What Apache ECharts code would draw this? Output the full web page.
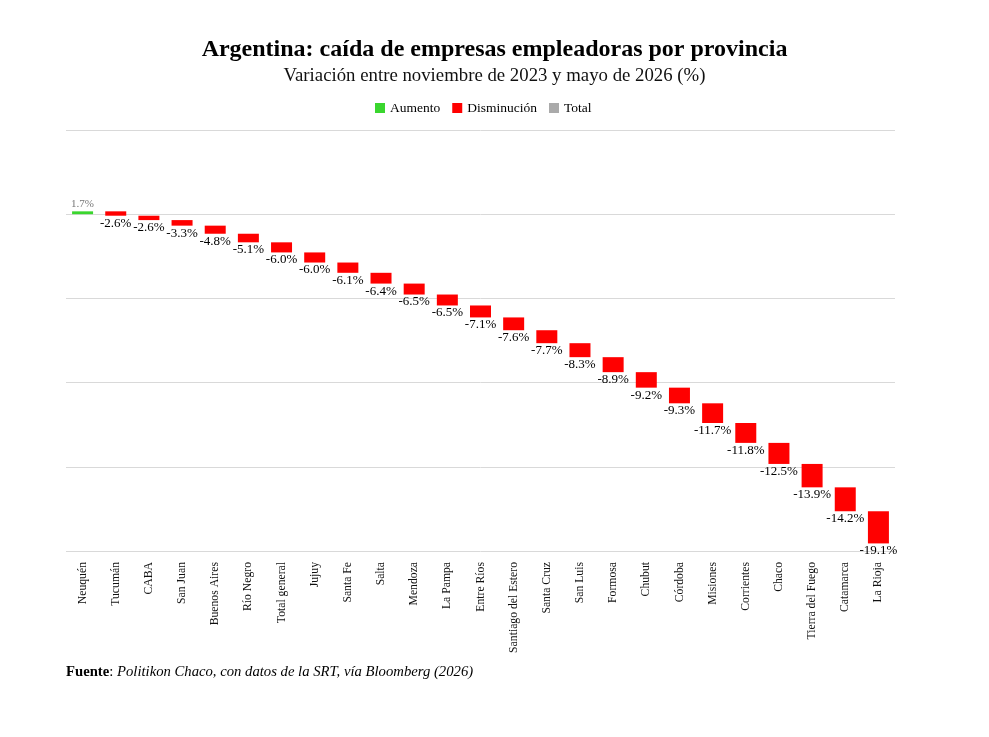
<!DOCTYPE html>
<html>
<head>
<meta charset="utf-8">
<title>Argentina: caída de empresas empleadoras por provincia</title>
<script src="https://cdn.jsdelivr.net/npm/echarts@6/dist/echarts.min.js"></script>
<style>
  html, body { margin: 0; padding: 0; background: #fff; }
  #chart { width: 989px; height: 737px; }
</style>
</head>
<body>
<div id="chart"></div>
<script>
var provincias = ['Neuquén', 'Tucumán', 'CABA', 'San Juan', 'Buenos Aires', 'Río Negro', 'Total general',
    'Jujuy', 'Santa Fe', 'Salta', 'Mendoza', 'La Pampa', 'Entre Ríos', 'Santiago del Estero', 'Santa Cruz',
    'San Luis', 'Formosa', 'Chubut', 'Córdoba', 'Misiones', 'Corrientes', 'Chaco', 'Tierra del Fuego',
    'Catamarca', 'La Rioja'];
var variacion = [1.7, -2.6, -2.6, -3.3, -4.8, -5.1, -6.0, -6.0, -6.1, -6.4, -6.5, -6.5, -7.1, -7.6, -7.7,
    -8.3, -8.9, -9.2, -9.3, -11.7, -11.8, -12.5, -13.9, -14.2, -19.1];
var yTicks = [-200, -150, -100, -50, 0, 50];

// cascada: cada barra arranca donde terminó la anterior
var aumento = [];
var disminucion = [];
var acum = 0;
variacion.forEach(function (v, i) {
    var desde = acum;
    acum = Math.round((acum + v) * 10) / 10;
    if (v >= 0) aumento.push([i, desde, acum, v]);
    else disminucion.push([i, desde, acum, v]);
});

var serif = '"Liberation Serif", "Times New Roman", serif';
var chart = echarts.init(document.getElementById('chart'));

function makeRender(color, labelColor, fontSize, up) {
    return function (params, api) {
        var i = api.value(0);
        var p1 = api.coord([i, api.value(1)]);
        var p2 = api.coord([i, api.value(2)]);
        var w = 21;
        var yTop = Math.min(p1[1], p2[1]);
        var yBot = Math.max(p1[1], p2[1]);
        var txt = api.value(3).toFixed(1) + '%';
        return {
            type: 'group',
            children: [{
                type: 'rect',
                shape: { x: p1[0] - w / 2, y: yTop, width: w, height: Math.max(yBot - yTop, 1) },
                style: { fill: color }
            }, {
                type: 'text',
                style: {
                    text: txt,
                    x: p1[0],
                    y: up ? yTop - 2 : yBot + 1,
                    align: 'center',
                    verticalAlign: up ? 'bottom' : 'top',
                    fill: labelColor,
                    font: fontSize + 'px ' + serif
                }
            }]
        };
    };
}

chart.setOption({
    textStyle: { fontFamily: serif },
    title: [{
        text: 'Argentina: caída de empresas empleadoras por provincia',
        subtext: 'Variación entre noviembre de 2023 y mayo de 2026 (%)',
        left: 'center',
        top: 33,
        itemGap: 5,
        textStyle: { fontFamily: serif, fontSize: 24, fontWeight: 'bold', color: '#000' },
        subtextStyle: { fontFamily: serif, fontSize: 18.8, color: '#111' }
    }, {
        text: '{b|Fuente}: {i|Politikon Chaco, con datos de la SRT, vía Bloomberg (2026)}',
        left: 61,
        top: 660,
        textStyle: {
            fontFamily: serif, fontSize: 14.7, color: '#000', fontWeight: 'normal',
            rich: {
                b: { fontFamily: serif, fontSize: 14.7, fontWeight: 'bold', color: '#000' },
                i: { fontFamily: serif, fontSize: 14.7, fontStyle: 'italic', color: '#000' }
            }
        }
    }],
    legend: {
        data: ['Aumento', 'Disminución', 'Total'],
        top: 96,
        left: 370,
        itemWidth: 10,
        itemHeight: 10,
        itemGap: 12,
        icon: 'rect',
        textStyle: { fontFamily: serif, fontSize: 13.5, color: '#000' }
    },
    grid: { left: 66, right: 94, top: 130, bottom: 186 },
    xAxis: {
        type: 'category',
        data: provincias,
        axisLine: { show: false, onZero: false },
        axisTick: { show: false },
        axisLabel: {
            rotate: 90,
            interval: 0,
            margin: 11,
            fontFamily: serif,
            fontSize: 11.7,
            color: '#111'
        }
    },
    yAxis: {
        type: 'value',
        min: yTicks[0],
        max: yTicks[yTicks.length - 1],
        interval: 50,
        axisLabel: { show: false },
        axisLine: { show: false },
        axisTick: { show: false },
        splitLine: { lineStyle: { color: '#d9d9d9', width: 1 } }
    },
    series: [{
        name: 'Aumento',
        type: 'custom',
        itemStyle: { color: '#3ad62e' },
        renderItem: makeRender('#3ad62e', '#777', 11, true),
        encode: { x: 0, y: [1, 2] },
        data: aumento
    }, {
        name: 'Disminución',
        type: 'custom',
        itemStyle: { color: '#ff0000' },
        renderItem: makeRender('#ff0000', '#000', 13, false),
        encode: { x: 0, y: [1, 2] },
        data: disminucion
    }, {
        name: 'Total',
        type: 'custom',
        itemStyle: { color: '#aaaaaa' },
        renderItem: makeRender('#aaaaaa', '#000', 13, false),
        encode: { x: 0, y: [1, 2] },
        data: []
    }]
});

window.addEventListener('resize', function () {
    chart.resize();
});
</script>
</body>
</html>
